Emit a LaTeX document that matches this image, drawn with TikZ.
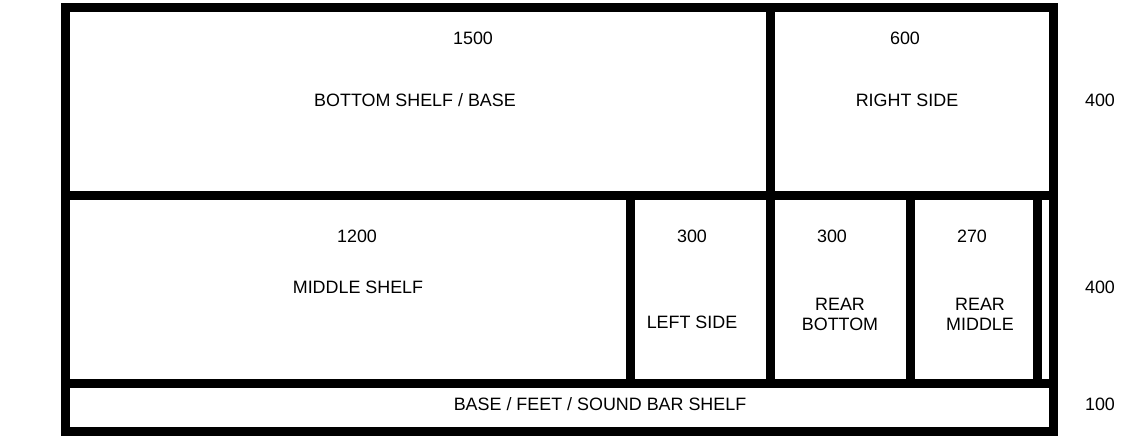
\documentclass[tikz,border=0pt]{standalone}
\usepackage{fontspec}
\setmainfont{Liberation Sans}
\usetikzlibrary{positioning, calc}
\definecolor{CutBlack}{HTML}{000000}

\begin{document}
\begin{tikzpicture}[x=0.5pt, y=-0.5pt,
    cutline/.style={draw=CutBlack, line width=4.5pt},
    lbl/.style={font=\fontsize{8.95}{10}\selectfont, align=center, inner sep=0pt},
    dimlbl/.style={lbl}]
\useasboundingbox (0,0) rectangle (1138,440);

% sheet outline and cuts
\draw[cutline] (65,7.5) rectangle (1053,431.5);
\draw[cutline] (65,195) -- (1053,195);
\draw[cutline] (65,383) -- (1053,383);
\draw[cutline] (770,7.5) -- (770,195);
\draw[cutline] (630,195) -- (630,383);
\draw[cutline] (770,195) -- (770,383);
\draw[cutline] (910.5,195) -- (910.5,383);
\draw[cutline] (1037.5,195) -- (1037.5,383);

% top row
\node[lbl] (baseLen) at (473,38) {1500};
\node[lbl] (baseName) at (415,100) {BOTTOM SHELF / BASE};
\node[lbl] (rightLen) at (905,38) {600};
\node[lbl] (rightName) at (907,100) {RIGHT SIDE};
\node[dimlbl] (topDepth) at (1100,100) {400};

% middle row
\node[lbl] (midLen) at (357,236) {1200};
\node[lbl] (midName) at (358,287) {MIDDLE SHELF};
\node[lbl] (leftLen) at (692,236) {300};
\node[lbl] (leftName) at (692,322) {LEFT SIDE};
\node[lbl] (rearBotLen) at (832,236) {300};
\node[lbl] (rearBotName) at (840,314) {REAR\\BOTTOM};
\node[lbl] (rearMidLen) at (972,236) {270};
\node[lbl] (rearMidName) at (980,314) {REAR\\MIDDLE};
\node[dimlbl] (midDepth) at (1100,287) {400};

% bottom strip
\node[lbl] (feetName) at (600,404) {BASE / FEET / SOUND BAR SHELF};
\node[dimlbl] (feetDepth) at (1100,404) {100};
\end{tikzpicture}
\end{document}
